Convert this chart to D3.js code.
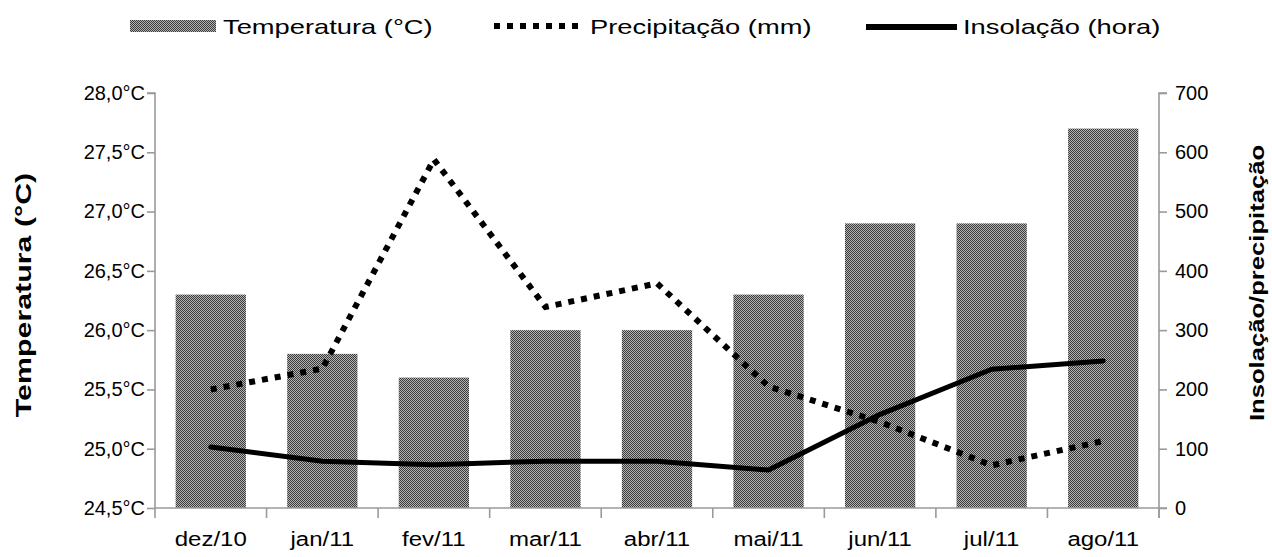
<!DOCTYPE html>
<html><head><meta charset="utf-8">
<script src="https://cdn.jsdelivr.net/npm/d3@7"></script>
<style>
body{margin:0;background:#fff;}
text{font-family:"Liberation Sans",Arial,sans-serif;fill:#000;}
</style></head>
<body><svg id="c" width="1272" height="557"></svg>
<script>
const categories = ["dez/10","jan/11","fev/11","mar/11","abr/11","mai/11","jun/11","jul/11","ago/11"];
const temperatura = [26.3, 25.8, 25.6, 26.0, 26.0, 26.3, 26.9, 26.9, 27.7];
const precipitacao = [200, 235, 588, 339, 379, 205, 145, 72, 113];
const insolacao = [103, 79, 73, 79, 79, 64, 158, 234, 248];
const leftTicks = [24.5, 25.0, 25.5, 26.0, 26.5, 27.0, 27.5, 28.0];
const rightTicks = [0, 100, 200, 300, 400, 500, 600, 700];
const legendLabels = ["Temperatura (°C)", "Precipitação (mm)", "Insolação (hora)"];
const leftTitle = "Temperatura (°C)";
const rightTitle = "Insolação/precipitação";

const svg = d3.select("#c");
const L = 155, R = 1159, T = 93, B = 508;
const axisColor = "#9a9a9a";

function stretch(sel, factor){
  sel.each(function(){
    const w = this.getComputedTextLength();
    d3.select(this).attr("textLength", w*factor).attr("lengthAdjust","spacingAndGlyphs");
  });
}

const defs = svg.append("defs");
const pat = defs.append("pattern").attr("id","chk").attr("patternUnits","userSpaceOnUse")
  .attr("width",2).attr("height",2);
pat.append("rect").attr("width",2).attr("height",2).attr("fill","#b4b4b4");
pat.append("rect").attr("x",0).attr("y",0).attr("width",1).attr("height",1).attr("fill","#3a3a3a");
pat.append("rect").attr("x",1).attr("y",1).attr("width",1).attr("height",1).attr("fill","#3a3a3a");

const x = d3.scaleBand().domain(categories).range([L,R]).paddingInner(0.37).paddingOuter(0.185);
const yL = d3.scaleLinear().domain([24.5,28]).range([B,T]);
const yR = d3.scaleLinear().domain([0,700]).range([B,T]);
const fmt = v => d3.format(".1f")(v).replace(".",",") + "°C";

// bars
svg.append("g").selectAll("rect").data(temperatura).join("rect")
  .attr("x",(d,i)=>x(categories[i])).attr("width",x.bandwidth())
  .attr("y",d=>yL(d)).attr("height",d=>B-yL(d)).attr("fill","url(#chk)");

// axes
const gL = svg.append("g").attr("transform",`translate(${L},0)`)
  .call(d3.axisLeft(yL).tickValues(leftTicks).tickFormat(fmt).tickSize(8).tickPadding(2));
const gR = svg.append("g").attr("transform",`translate(${R},0)`)
  .call(d3.axisRight(yR).tickValues(rightTicks).tickSize(8).tickPadding(8));
const boundaries = d3.range(categories.length+1).map(i => L + i*x.step());
const gX = svg.append("g").attr("transform",`translate(0,${B})`)
  .call(d3.axisBottom(x).tickSize(0).tickPadding(24));
gX.selectAll(".tick line").remove();
gX.select(".domain").attr("d",`M${L},0H${R+8}`);
gX.selectAll("line.bt").data(boundaries).join("line").attr("class","bt")
  .attr("x1",d=>d).attr("x2",d=>d).attr("y1",0).attr("y2",10);
[gL,gR,gX].forEach(g=>{
  g.selectAll("path.domain").attr("stroke",axisColor).attr("stroke-width",1.6);
  g.selectAll("line").attr("stroke",axisColor).attr("stroke-width",1.6);
  g.selectAll("text").attr("font-size",20).attr("font-family","Liberation Sans, Arial, sans-serif").attr("fill","#222");
});
gL.select(".domain").attr("d",`M-8,${T}H0V${B}`).attr("fill","none");
gR.select(".domain").attr("d",`M8,${T}H0V${B+10}`).attr("fill","none");
stretch(gX.selectAll(".tick text"), 1.2);

// lines
const line = (arr) => d3.line().x((d,i)=>x(categories[i])+x.bandwidth()/2).y(d=>yR(d))(arr);
svg.append("path").attr("d",line(precipitacao)).attr("fill","none").attr("stroke","#000")
  .attr("stroke-width",6).attr("stroke-dasharray","6,7");
svg.append("path").attr("d",line(insolacao)).attr("fill","none").attr("stroke","#000")
  .attr("stroke-width",5).attr("stroke-linejoin","round").attr("stroke-linecap","round");

// titles
const t1 = svg.append("text").attr("transform","translate(31,295) rotate(-90)").attr("text-anchor","middle")
  .attr("font-size",22).attr("font-weight","bold").text(leftTitle);
stretch(t1, 1.38);
const t2 = svg.append("text").attr("transform","translate(1264,283) rotate(-90)").attr("text-anchor","middle")
  .attr("font-size",21).attr("font-weight","bold").text(rightTitle);
stretch(t2, 1.22);

// legend
const lg = svg.append("g");
lg.append("rect").attr("x",130).attr("y",20).attr("width",86).attr("height",12).attr("fill","url(#chk)");
lg.append("line").attr("x1",494).attr("x2",584).attr("y1",26).attr("y2",26).attr("stroke","#000")
  .attr("stroke-width",6).attr("stroke-dasharray","6,7");
lg.append("line").attr("x1",866).attr("x2",957).attr("y1",27).attr("y2",27).attr("stroke","#000").attr("stroke-width",6);
const lx = [223, 590, 963];
legendLabels.forEach((t,i)=>{
  const tx = lg.append("text").attr("x",lx[i]).attr("y",34).attr("font-size",21).attr("fill","#222").text(t);
  stretch(tx, 1.3);
});
</script></body></html>
